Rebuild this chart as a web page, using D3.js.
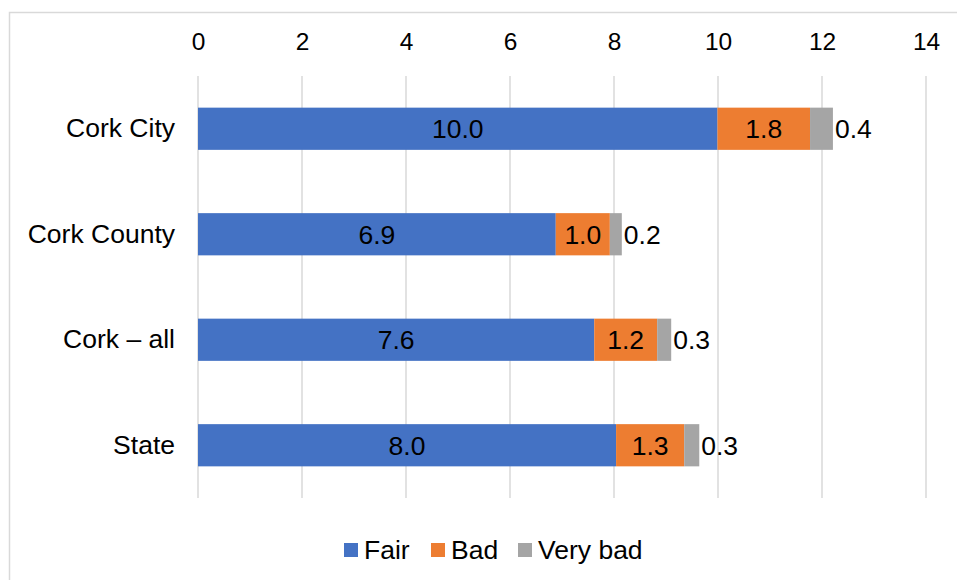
<!DOCTYPE html>
<html>
<head>
<meta charset="utf-8">
<script src="https://cdn.jsdelivr.net/npm/d3@7"></script>
<style>
  body { margin: 0; background: #fff; }
  text { font-family: "Liberation Sans", Arial, sans-serif; fill: #000; }
</style>
</head>
<body>
<div id="plot"></div>
<script>
const areas = ["Cork City", "Cork County", "Cork – all", "State"];
const fair = [9.99, 6.88, 7.62, 8.04];
const bad = [1.78, 1.04, 1.21, 1.31];
const veryBad = [0.44, 0.23, 0.27, 0.29];
const seriesNames = ["Fair", "Bad", "Very bad"];
const ticks = [0, 2, 4, 6, 8, 10, 12, 14];

const width = 957, height = 580;
const colors = ["#4472C4", "#ED7D31", "#A5A5A5"];

const rows = areas.map(function(a, i) {
  return { area: a, Fair: fair[i], Bad: bad[i], "Very bad": veryBad[i] };
});
const stacked = d3.stack().keys(seriesNames)(rows);

const svg = d3.select("div#plot")
  .append("svg")
  .attr("width", width)
  .attr("height", height);

// chart border
svg.append("rect")
  .attr("x", 9.5).attr("y", 12.5)
  .attr("width", 1000).attr("height", 1000)
  .attr("fill", "none")
  .attr("stroke", "#d9d9d9")
  .attr("stroke-width", 1.5);

const x = d3.scaleLinear().domain([0, 14]).range([198, 926]);
const y = d3.scaleBand().domain(areas).range([76, 498])
  .paddingInner(0.6).paddingOuter(0.3);

const color = d3.scaleOrdinal().domain(seriesNames).range(colors);

// gridlines
svg.append("g")
  .selectAll("line")
  .data(ticks)
  .join("line")
  .attr("x1", d => x(d)).attr("x2", d => x(d))
  .attr("y1", 76).attr("y2", 498)
  .attr("stroke", "#d9d9d9")
  .attr("stroke-width", 1.5);

// top axis labels
const xAxis = svg.append("g")
  .attr("transform", "translate(0,76)")
  .call(d3.axisTop(x).tickValues(ticks).tickSize(0).tickPadding(26));
xAxis.select(".domain").remove();
xAxis.selectAll("text")
  .style("font-size", "24.5px")
  .style("font-family", "Liberation Sans, Arial, sans-serif")
  .attr("fill", "#000");

// category labels
const yAxis = svg.append("g")
  .attr("transform", "translate(198,0)")
  .call(d3.axisLeft(y).tickSize(0).tickPadding(23));
yAxis.select(".domain").remove();
yAxis.selectAll("text")
  .style("font-size", "26.5px")
  .style("font-family", "Liberation Sans, Arial, sans-serif")
  .attr("fill", "#000");

// bars
const groups = svg.append("g")
  .selectAll("g")
  .data(stacked)
  .join("g")
  .attr("fill", d => color(d.key));

groups.selectAll("rect")
  .data(d => d)
  .join("rect")
  .attr("x", d => x(d[0]))
  .attr("width", d => x(d[1]) - x(d[0]))
  .attr("y", d => y(d.data.area))
  .attr("height", y.bandwidth());

// data labels
const fmt = d3.format(".1f");
stacked.forEach(function(s, si) {
  svg.append("g")
    .selectAll("text")
    .data(s)
    .join("text")
    .attr("x", d => si < 2 ? (x(d[0]) + x(d[1])) / 2 : x(d[1]) + 2)
    .attr("y", d => y(d.data.area) + y.bandwidth() / 2)
    .attr("dy", "0.35em")
    .attr("text-anchor", si < 2 ? "middle" : "start")
    .style("font-size", "26.5px")
    .text(d => fmt(d[1] - d[0]));
});

// legend
const legendX = [344, 431, 518];
const legend = svg.append("g")
  .selectAll("g")
  .data(seriesNames)
  .join("g")
  .attr("transform", (d, i) => `translate(${legendX[i]}, 543)`);
legend.append("rect")
  .attr("width", 14).attr("height", 14)
  .attr("fill", d => color(d));
legend.append("text")
  .attr("x", 20).attr("y", 7)
  .attr("dy", "0.35em")
  .style("font-size", "26.5px")
  .text(d => d);
</script>
</body>
</html>
